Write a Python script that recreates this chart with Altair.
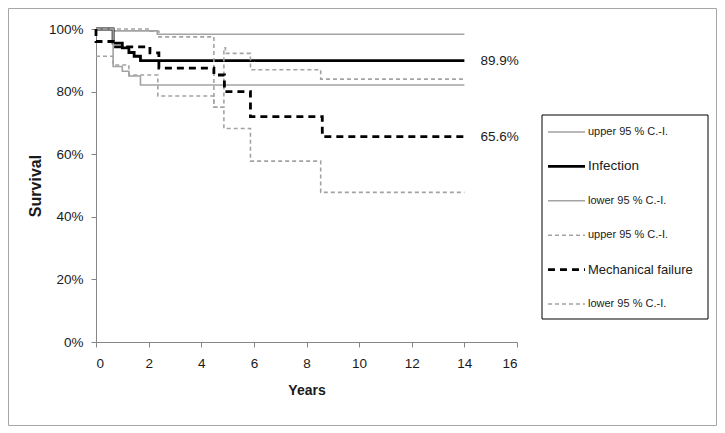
import altair as alt
import pandas as pd

# ---- data ----
inf_t = [0, 0.65, 1.0, 1.25, 1.45, 1.69, 14]
inf_v = [100, 95.5, 94.0, 92.5, 91.3, 89.9, 89.9]
inf_up_t = [0, 0.65, 2.33, 14]
inf_up_v = [100, 99.4, 98.3, 98.3]
inf_lo_t = [0, 0.65, 1.0, 1.25, 1.69, 14]
inf_lo_v = [100, 88.0, 86.5, 85.0, 82.1, 82.1]
mech_t = [0, 0, 0.65, 2.05, 2.39, 4.48, 4.88, 5.87, 8.6, 14]
mech_v = [100, 96.0, 94.3, 92.4, 87.5, 85.3, 80.0, 72.0, 65.6, 65.6]
mech_up_t = [0, 2.05, 2.39, 4.48, 4.86, 4.92, 5.87, 8.54, 14]
mech_up_v = [100, 99.3, 97.5, 75.0, 94.0, 92.2, 87.0, 84.0, 84.0]
mech_lo_t = [0, 0.65, 1.25, 2.35, 4.48, 4.86, 5.87, 8.54, 14]
mech_lo_v = [91.3, 88.5, 85.3, 78.6, 75.0, 68.2, 57.8, 47.8, 47.8]

end_labels = ["89.9%", "65.6%"]
end_values = [89.9, 65.6]
end_t = [14, 14]

legend_labels = ["upper 95 % C.-I.", "Infection", "lower 95 % C.-I.",
                 "upper 95 % C.-I.", "Mechanical failure", "lower 95 % C.-I."]
legend_sizes = [11, 13.5, 11, 11, 13, 11]

x_ticks = [0, 2, 4, 6, 8, 10, 12, 14, 16]
y_ticks = [0, 20, 40, 60, 80, 100]

FONT = "Liberation Sans, Arial"
GRAY = "#a3a3a3"

styles = [
    dict(key="inf_up", t=inf_up_t, v=inf_up_v, color=GRAY, width=1.6, dash=[1, 0]),
    dict(key="inf", t=inf_t, v=inf_v, color="#000000", width=2.8, dash=[1, 0]),
    dict(key="inf_lo", t=inf_lo_t, v=inf_lo_v, color=GRAY, width=1.6, dash=[1, 0]),
    dict(key="mech_up", t=mech_up_t, v=mech_up_v, color=GRAY, width=1.6, dash=[4, 3]),
    dict(key="mech", t=mech_t, v=mech_v, color="#000000", width=2.8, dash=[7, 5]),
    dict(key="mech_lo", t=mech_lo_t, v=mech_lo_v, color=GRAY, width=1.6, dash=[4, 3]),
]

W, H = 421, 313
PL, PT = 88, 21
TOTAL_W, TOTAL_H = 709, 418

xscale = alt.Scale(domain=[0, 16], nice=False)
yscale = alt.Scale(domain=[0, 100], nice=False)

layers = []

# outer frame
frame = alt.Chart(pd.DataFrame({"a": [0]})).mark_rect(
    fill=None, stroke="#a6a6a6", strokeWidth=1
).encode(
    x=alt.value(-PL + 0.5), x2=alt.value(TOTAL_W - PL - 0.5),
    y=alt.value(-PT + 0.5), y2=alt.value(TOTAL_H - PT - 0.5)
)
layers.append(frame)

for i, s in enumerate(styles):
    df = pd.DataFrame({"t": s["t"], "v": s["v"], "idx": list(range(len(s["t"])))})
    enc_x = alt.X("t:Q", scale=xscale, axis=alt.Axis(
        values=x_ticks, title="Years", grid=False, tickSize=5, labelPadding=9,
        titlePadding=14))
    enc_y = alt.Y("v:Q", scale=yscale, axis=alt.Axis(
        values=y_ticks, title="Survival", grid=False, tickSize=5, labelPadding=8,
        labelExpr="datum.value + '%'", titlePadding=5))
    line = alt.Chart(df).mark_line(
        interpolate="step-after", color=s["color"], strokeWidth=s["width"],
        strokeDash=s["dash"]
    ).encode(x=enc_x, y=enc_y, order="idx:Q")
    layers.append(line)

lab_df = pd.DataFrame({"t": end_t, "v": end_values, "label": end_labels})
end_text = alt.Chart(lab_df).mark_text(
    align="left", baseline="middle", dx=16, fontSize=13.5, font=FONT, color="#1a1a1a"
).encode(x=alt.X("t:Q", scale=xscale), y=alt.Y("v:Q", scale=yscale), text="label:N")
layers.append(end_text)

main = alt.layer(*layers)

# ---- manual legend (own scale for rows) ----
leg_scale = alt.Scale(domain=[0, 5], range=[103, 275])
leg_box = alt.Chart(pd.DataFrame({"a": [0]})).mark_rect(
    fill="white", stroke="#000000", strokeWidth=1
).encode(
    x=alt.value(446), x2=alt.value(612), y=alt.value(86), y2=alt.value(290)
)
leg_layers = [leg_box]
for i, s in enumerate(styles):
    d = pd.DataFrame({"row": [i], "label": [legend_labels[i]]})
    leg_layers.append(alt.Chart(d).mark_rule(
        color=s["color"], strokeWidth=s["width"], strokeDash=s["dash"]
    ).encode(x=alt.value(452), x2=alt.value(489),
             y=alt.Y("row:Q", scale=leg_scale, axis=None)))
leg_df = pd.DataFrame({"row": list(range(6)), "label": legend_labels, "fs": legend_sizes})
leg_layers.append(alt.Chart(leg_df).mark_text(
    align="left", baseline="middle", font=FONT, color="#1a1a1a"
).encode(x=alt.value(492), y=alt.Y("row:Q", scale=leg_scale, axis=None),
         text="label:N", size=alt.Size("fs:Q", scale=None, legend=None)))
legend = alt.layer(*leg_layers)

chart = alt.layer(main, legend).resolve_scale(y="independent").properties(
    width=W, height=H,
    autosize=alt.AutoSizeParams(type="none"),
    padding={"left": PL, "top": PT, "right": TOTAL_W - PL - W, "bottom": TOTAL_H - PT - H},
    background="white"
).configure_view(stroke=None).configure_axis(
    domainColor="#868686", tickColor="#868686", domainWidth=1,
    labelFont=FONT, labelFontSize=13.5, labelColor="#1a1a1a",
    titleFont=FONT, titleFontSize=14, titleFontWeight="bold",
    titleColor="#1a1a1a"
).configure_axisY(titleFontSize=16)

chart.save("out.html", embed_options={"renderer": "svg", "actions": False})
